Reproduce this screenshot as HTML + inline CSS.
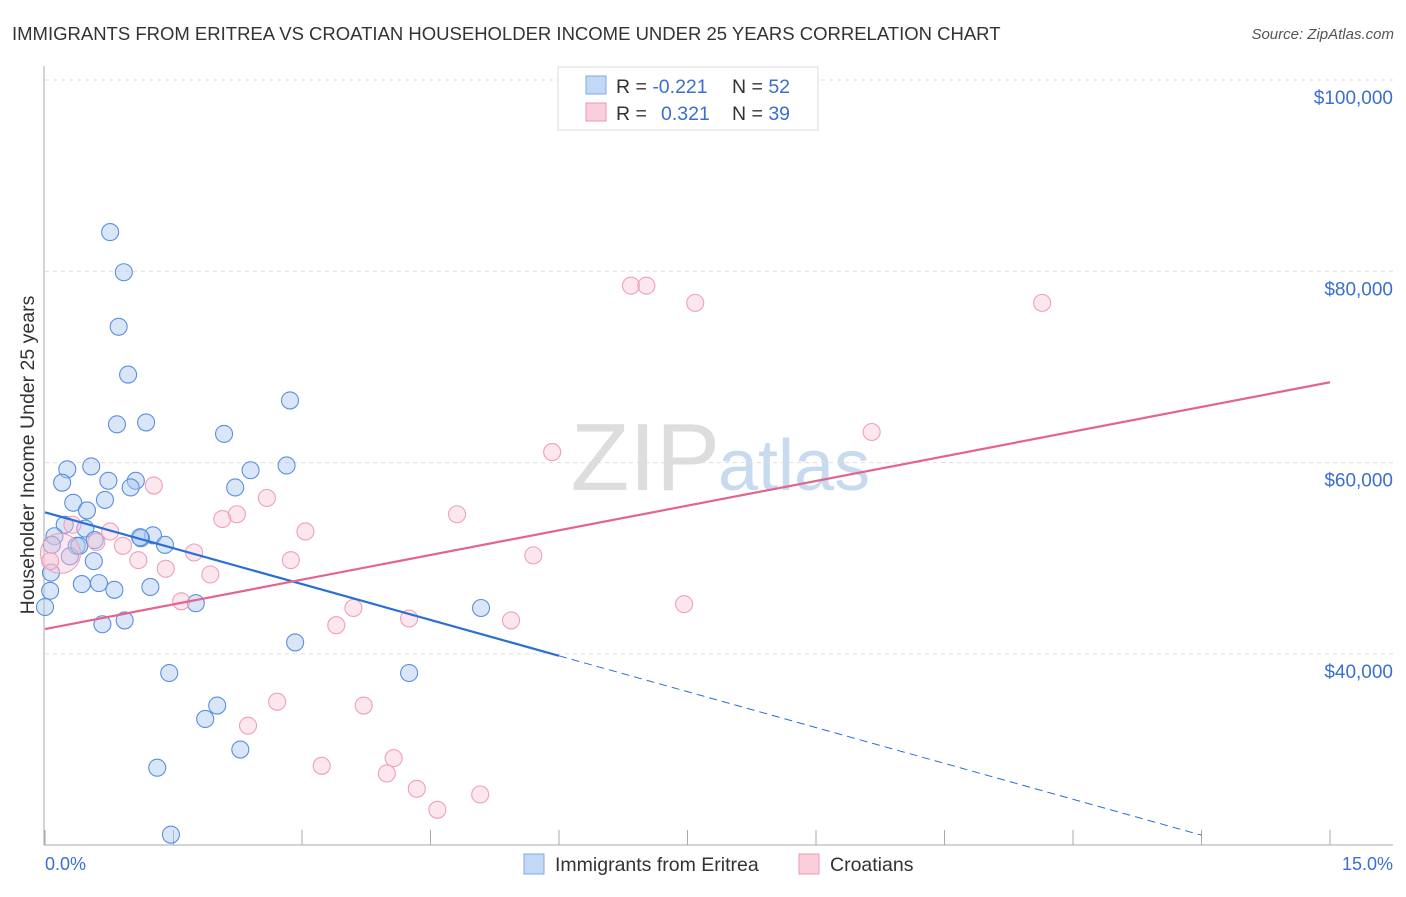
<!DOCTYPE html>
<html><head><meta charset="utf-8"><style>
body{margin:0;background:#fff;font-family:"Liberation Sans",sans-serif;}
svg text{font-family:"Liberation Sans",sans-serif;}
</style></head><body>
<svg width="1406" height="892" viewBox="0 0 1406 892">
<text x="12" y="40" font-size="18.5" fill="#333">IMMIGRANTS FROM ERITREA VS CROATIAN HOUSEHOLDER INCOME UNDER 25 YEARS CORRELATION CHART</text>
<text x="1394" y="39" font-size="15" fill="#555" font-style="italic" text-anchor="end">Source: ZipAtlas.com</text>
<text x="720" y="490" font-size="96" fill="#ddd" text-anchor="end" font-family="Liberation Serif">ZIP</text>
<text x="718" y="490" font-size="72" fill="#c8daf0">atlas</text>
<g id="grid"></g>
<line x1="44" y1="66" x2="44" y2="845" stroke="#aaa"/>
<line x1="44" y1="845" x2="1393" y2="845" stroke="#aaa"/>
<g id="ticks"></g>
<text transform="translate(34,455) rotate(-90)" font-size="19.5" fill="#333" text-anchor="middle">Householder Income Under 25 years</text>
<text x="45" y="870" font-size="18" fill="#3a6fd1">0.0%</text>
<text x="1393" y="870" font-size="18" fill="#3a6fd1" text-anchor="end">15.0%</text>
<g id="pts"></g>
<g id="lines"></g>
<g>
<rect x="558" y="67" width="260" height="63" fill="#fff" stroke="#ddd"/>
<rect x="586" y="76" width="20" height="18" fill="#c2d8f5" stroke="#7fa8e6"/>
<rect x="586" y="103" width="20" height="18" fill="#f9cfdc" stroke="#ee9ab5"/>
<text x="616" y="93" font-size="19.5" fill="#333">R = <tspan fill="#3a6fd1">-0.221</tspan><tspan x="732">N = </tspan><tspan fill="#3a6fd1">52</tspan></text>
<text x="616" y="120" font-size="19.5" fill="#333">R = <tspan x="661" fill="#3a6fd1">0.321</tspan><tspan x="732">N = </tspan><tspan fill="#3a6fd1">39</tspan></text>
</g>
<g>
<rect x="524" y="854" width="20" height="20" fill="#c2d8f5" stroke="#7fa8e6"/>
<text x="555" y="871" font-size="19.5" fill="#333">Immigrants from Eritrea</text>
<rect x="799" y="854" width="20" height="20" fill="#f9cfdc" stroke="#ee9ab5"/>
<text x="830" y="871" font-size="19.5" fill="#333">Croatians</text>
</g>
</svg>
<script>
const yTicks=[100000,80000,60000,40000];
const yTickLabels=["$100,000","$80,000","$60,000","$40,000"];
const xTickVals=[0,1.5,3,4.5,6,7.5,9,10.5,12,13.5,15];
const eritreaX=[0.76,0.92,0.86,0.97,0.84,1.18,2.86,2.09,0.26,0.54,0.2,0.74,1.06,1.0,2.4,2.22,2.82,0.33,0.7,0.49,0.23,0.47,0.11,1.26,1.12,0.58,0.37,0.29,1.4,0.08,0.57,0.06,0.0,0.43,0.63,0.81,1.23,1.76,0.67,0.93,5.09,2.92,1.45,4.25,2.01,1.87,2.28,1.31,1.47,0.4,0.07,1.11];
const eritreaY=[84100,79900,74200,69200,64000,64200,66500,63000,59300,59600,57900,58100,58100,57400,59200,57400,59700,55800,56100,55000,53500,53100,52300,52400,52100,51900,51300,50200,51400,51400,49700,46600,44900,47300,47400,46700,47000,45300,43100,43500,44800,41200,38000,38000,34600,33200,30000,28100,21100,51300,48500,52200];
const croatX=[6.84,7.02,7.59,11.64,9.65,5.92,1.27,2.59,4.81,2.24,2.07,0.32,0.76,3.04,0.6,0.91,5.7,1.74,1.09,2.87,1.41,1.93,7.46,1.59,3.6,4.25,5.44,3.4,2.71,3.72,2.37,4.07,3.23,3.99,4.34,5.08,4.58,0.18,0.06];
const croatY=[78500,78500,76700,76700,63200,61100,57600,56300,54600,54600,54100,53500,52800,52800,51700,51300,50300,50600,49800,49800,48900,48300,45200,45500,44800,43700,43500,43000,35000,34600,32500,29100,28300,27500,25900,25300,23700,50500,49700];
const lineX=[0,6,15];
const eritreaFit=[54800,39800];
const croatFit=[42600,68400];
const ns="http://www.w3.org/2000/svg";
const xs=p=>45+p/15*1285, ys=v=>80+(100000-v)/20000*191.3;
function mk(t,a,p){const e=document.createElementNS(ns,t);for(const k in a)e.setAttribute(k,a[k]);document.getElementById(p).appendChild(e);return e;}
yTicks.forEach((v,i)=>{
 const g=mk('line',{x1:45,x2:1393,y1:ys(v),y2:ys(v),stroke:'#ddd','stroke-dasharray':'4,4'},'grid');
 
 
 const t=mk('text',{x:1393,y:ys(v)+24,'font-size':19,fill:'#3a6fd1','text-anchor':'end'},'grid');
 t.textContent=yTickLabels[i];
 
 
});
xTickVals.forEach(p=>{
 const l=mk('line',{x1:xs(p),x2:xs(p),y1:830,y2:845,stroke:'#aaa'},'ticks');
 
 
});
eritreaX.forEach((x,i)=>{
 const c=mk('circle',{cx:xs(x),cy:ys(eritreaY[i]),r:8.5,fill:'rgba(170,200,240,0.45)',stroke:'#5a8fe0','stroke-width':1.1},'pts');
 
 
});
croatX.forEach((x,i)=>{
 const c=mk('circle',{cx:xs(x),cy:ys(croatY[i]),r:i==37?20:8.5,fill:'rgba(248,195,212,0.4)',stroke:'#eea0b8','stroke-width':1.1},'pts');
 
 
});
const slope=(eritreaFit[1]-eritreaFit[0])/lineX[1];
let e=mk('line',{x1:xs(lineX[0]),y1:ys(eritreaFit[0]),x2:xs(lineX[1]),y2:ys(eritreaFit[1]),stroke:'#2a6fd6','stroke-width':2.2},'lines');


const xe=13.5;
e=mk('line',{x1:xs(lineX[1]),y1:ys(eritreaFit[1]),x2:xs(xe),y2:ys(eritreaFit[0]+slope*xe),stroke:'#2a6fd6','stroke-width':1,'stroke-dasharray':'8,5'},'lines');


e=mk('line',{x1:xs(lineX[0]),y1:ys(croatFit[0]),x2:xs(lineX[2]),y2:ys(croatFit[1]),stroke:'#e3648f','stroke-width':2.2},'lines');


</script>
</body></html>
